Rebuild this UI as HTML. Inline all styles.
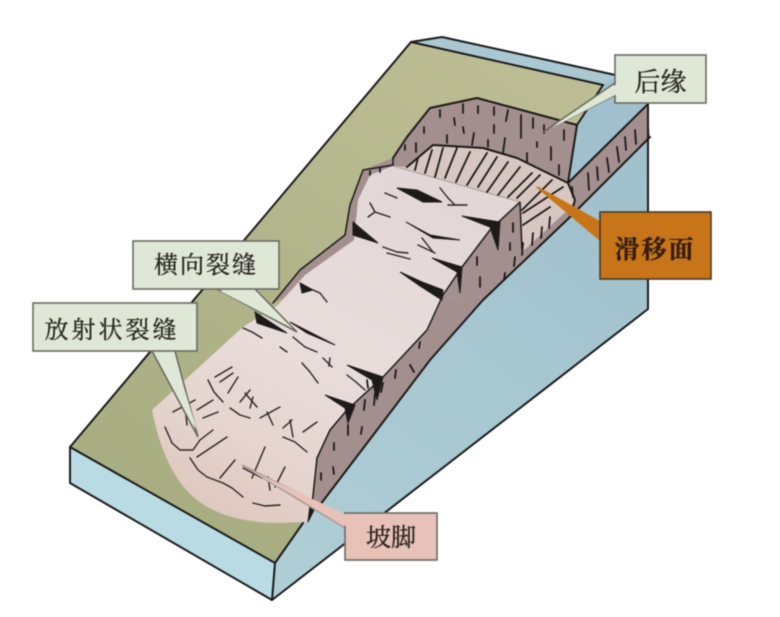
<!DOCTYPE html>
<html><head><meta charset="utf-8"><style>
html,body{margin:0;padding:0;background:#fff}
svg{display:block;filter:blur(.45px)}
text{font-family:"Liberation Serif","Noto Serif CJK SC",serif;fill:#2a2622;stroke:#2a2622;stroke-width:.35}
</style></head><body>
<svg width="780" height="617" viewBox="0 0 780 617" xmlns="http://www.w3.org/2000/svg">
<defs>
<linearGradient id="pk" gradientUnits="userSpaceOnUse" x1="420" y1="170" x2="230" y2="520">
<stop offset="0" stop-color="#e2d6d6"/><stop offset=".5" stop-color="#e9dddc"/><stop offset=".8" stop-color="#e6d5d0"/><stop offset="1" stop-color="#dfc8bf"/>
</linearGradient>
<linearGradient id="bl" gradientUnits="userSpaceOnUse" x1="640" y1="120" x2="300" y2="590">
<stop offset="0" stop-color="#9fc0cc"/><stop offset="1" stop-color="#afced6"/>
</linearGradient>
<linearGradient id="gr" gradientUnits="userSpaceOnUse" x1="500" y1="70" x2="200" y2="520">
<stop offset="0" stop-color="#bcbd94"/><stop offset="1" stop-color="#a9ae82"/>
</linearGradient>
</defs>
<!-- right blue face -->
<polygon points="603,85 617,74 648,104 648,309 272,600 275,563 303,523 577,125" fill="url(#bl)"/>
<!-- front blue face -->
<polygon points="70,447 275,563 272,600 70,483" fill="#b9dbe4"/>
<!-- back strip -->
<polygon points="411,42 442,37 620,76 603,85" fill="#a9c8d2"/>
<!-- green top -->
<polygon points="411,42 603,85 577,125 400,300 303,523 275,563 70,447" fill="url(#gr)"/>
<!-- all brown: scarp + flanks + rim -->
<path d="M393,158 L407,137 L430,108 L477,98 L577,125 L568,183 L647,105 L650,137 L570,217 L483,300 L430,360 L377,430 L320,505 L312,507 L300,500 L320,440 L400,280 L300,290 L273,303 L300,270 L345,235 L350,205 L363,170 Z" fill="#a48f8f"/>
<!-- slip surface -->
<path d="M393,166 L407,167 L433,145 L483,148 L517,158 L568,183 L575,200 L570,208 L522,252 L520,202 Z" fill="#d8c7c1"/>
<!-- pink slide -->
<path d="M393,166 L520,202 L490,230 L462,267 L460,300 L443,295 L427,330 L383,377 L347,410 L330,430 L317,458 L312,505 L308,522 L277,523 Q225,522 197,500 Q165,475 152,410 L243,327 L278,305 L305,275 L354,240 L358,200 L370,175 Z" fill="url(#pk)"/>
<polygon points="462,267 460,300 443,295" fill="#a48f8f"/>
<!-- outlines -->
<g fill="none" stroke="#1c1a1a" stroke-width="2" stroke-linejoin="round" stroke-linecap="round">
<path d="M70,447 L70,483 L272,600 L275,563 L70,447 L411,42 L442,37 L620,76"/>
<path d="M411,42 L603,85"/>
<path d="M272,600 L648,309 L648,104"/>
<path d="M275,563 L303,523"/>
<path d="M603,85 L577,125 L568,183"/>
<path d="M393,158 L407,137 L430,108 L477,98 L577,125"/>
<path d="M407,167 L433,145 L483,148 L517,158 L568,183 L647,105"/>
<path d="M568,183 L575,200 L570,217"/>
<path d="M650,137 L570,217 L483,300 L430,360 L377,430 L320,505"/>
<path d="M393,158 L393,165 L363,170 L350,205 L345,235 L300,270 L273,303" stroke-width="1.5"/>
<path d="M347,410 L383,377 L427,330 L443,295 L462,267 L490,230 L520,202 L522,250" stroke-width="1.5"/>
<path d="M347,410 L330,430 L317,458 L312,505" stroke-width="1.5"/>
<path d="M393,166 L520,202" stroke-width=".6" stroke="#8a7a78"/>
</g>
<!-- hatch and ticks -->
<g stroke="#1c1a1a" stroke-width="1.8" stroke-linecap="round">
<path d="M432,150L425,173M418,158L415,170M443,148L435,177M457,148L445,178M470,152L456,182M487,153L467,185M497,157L478,187M508,162L487,192M520,167L498,195M532,173L508,197M540,175L517,198M552,180L522,210M563,187L523,213M550,207L523,225"/>
<path d="M440,110L440,117M463,104L463,113M478,106L478,113M494,107L494,115M508,110L506,121M521,115L521,138M533,118L533,128M544,125L544,133M564,130L564,140M424,127L424,133M454,118L455,125M463,127L464,133M494,125L494,133M447,135L447,143M474,133L472,145M488,140L488,147M505,138L503,153M527,153L527,162M537,142L537,147M551,147L551,160M559,165L559,175M405,145L405,150M416,143L416,152"/>
<path d="M572,187L573,197M588,173L589,190M597,167L598,180M607,158L609,172M617,147L619,162M625,137L626,150M635,130L636,144M648,117L648,130"/>
<path d="M550,217L549,228M542,227L541,238M533,233L532,245M523,243L522,255M515,257L514,266M505,273L504,280M513,223L513,232M510,243L510,250M477,257L477,265M480,277L480,287"/>
<path d="M420,342L419,348M410,365L414,372M396,370L395,378M383,383L381,392M375,393L374,405M365,400L364,410M362,427L361,434M348,435L348,425M334,443L334,450M333,467L334,474M321,473L321,480M367,380L368,388"/>
<path d="M370,171L370,175M380,168L380,172"/>
</g>
<!-- dark wedges -->
<g fill="#1d1a1a" stroke="#1d1a1a" stroke-width="1">
<path d="M397,188 L417,190 L442,202 L423,202 Z"/>
<path d="M462,216 L500,222 L498,250 L490,227 Z"/>
<path d="M406,222 L430,235 L460,240 L433,238 Z"/>
<path d="M353,222 L378,243 L353,235 Z"/>
<path d="M432,258 L462,267 L460,293 L457,272 Z"/>
<path d="M400,272 L422,282 L443,290 L442,300 L420,286 Z"/>
<path d="M300,283 L313,290 L302,293 Z"/>
<path d="M255,312 L287,333 L257,323 Z"/>
<path d="M290,322 L335,345 L307,333 Z"/>
<path d="M347,365 L383,377 L377,400 L372,380 Z"/>
<path d="M325,395 L355,405 L348,423 L345,408 Z"/>
<path d="M308,522 L310,505 L314,510 Z"/>
</g>
<!-- cracks -->
<g fill="none" stroke="#2a2524" stroke-width="1.4" stroke-linecap="round" stroke-linejoin="round">
<path d="M385,193L397,198M440,188L448,198L455,205M448,205L467,205M370,203L375,212L368,217M375,212L390,217M418,245L435,253M422,238L433,252M383,247L397,252L408,253M387,253L410,259M313,290L320,293L327,302"/>
<path d="M243,328L252,332L262,338M280,347L287,352M293,337L305,347L317,352M323,358L332,367M330,358L329,366M302,363L310,372L318,383M347,375L356,382L365,390"/>
<path d="M215,377L232,367M220,382L233,373M228,393L238,377M208,380L214,392L223,402M240,402L250,390M245,393L257,407M250,408L253,397M230,408L240,415L250,418M260,418L280,407M267,412L273,425M283,428L292,420M290,420L293,437M303,432L317,422M283,437L295,442L307,452"/>
<path d="M173,412L195,400M185,407L187,425M203,418L218,412M197,410L213,400M165,427L172,443L180,450L193,450L200,440L213,430M197,457L227,437M190,458L198,470L207,477L223,483L232,488L243,497M220,478L235,460M252,478L265,447M253,503L265,506L280,505M270,490L268,477M275,487L285,467M243,468L262,478"/>
</g>
<!-- callouts -->
<g stroke="#6b6b62" stroke-width="1.6">
<path d="M615,83 L543,132 L615,95" fill="#e4ecd9"/>
<rect x="615" y="55" width="91" height="48" fill="#dfe8d6"/>
<path d="M217,289 L297,332 L255,289" fill="#dfe8d6"/>
<rect x="133" y="241" width="146" height="48" fill="#dfe8d6"/>
<path d="M152,351 L198,437 L175,351" fill="#dfe8d6"/>
<rect x="33" y="303" width="164" height="48" fill="#dfe8d6"/>
<path d="M345,528 L242,465 L338,513" fill="#e8c2b8" stroke="#a99"/>
<rect x="345" y="513" width="92" height="47" fill="#e8c2b8"/>
<path d="M600,222 L537,187 L600,240" fill="#c8751a" stroke="#c8751a"/>
<rect x="600" y="212" width="111" height="67" fill="#c8751a" stroke="#4a3a28"/>
</g>
<g stroke="none">
<polygon points="617,84 548,130 617,94" fill="#dfe8d6"/>
<polygon points="220,291 292,328 253,291" fill="#dfe8d6"/>
<polygon points="155,353 197,430 173,353" fill="#dfe8d6"/>
<polygon points="347,527 250,470 347,515" fill="#e8c2b8"/>
</g>
<text x="660.5" y="91" font-size="26" text-anchor="middle">后缘</text>
<text x="206" y="273" font-size="24" text-anchor="middle" letter-spacing="2">横向裂缝</text>
<text x="112" y="338" font-size="24" text-anchor="middle" letter-spacing="3">放射状裂缝</text>
<text x="391" y="546" font-size="25" text-anchor="middle">坡脚</text>
<text x="655" y="258" font-size="25" text-anchor="middle" font-weight="bold" style="fill:#3a1c08" letter-spacing="2">滑移面</text>
</svg>
</body></html>
